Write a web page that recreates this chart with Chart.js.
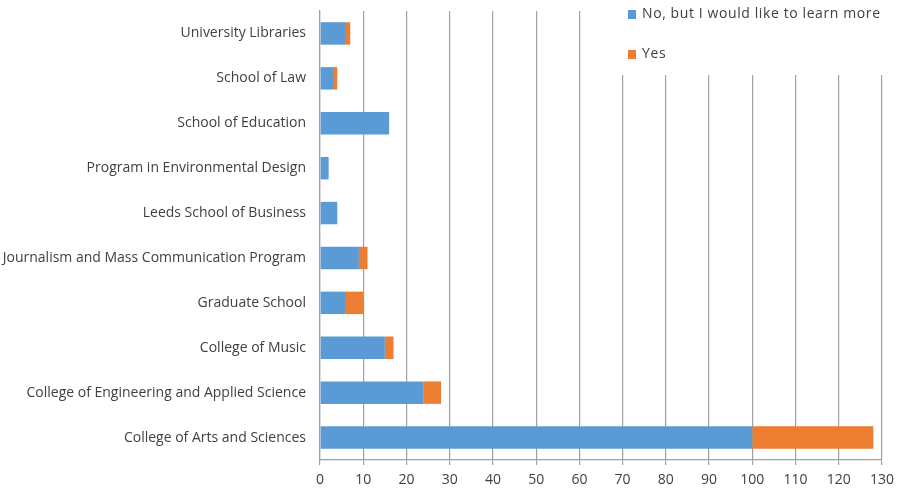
<!DOCTYPE html>
<html>
<head>
<meta charset="utf-8">
<script src="https://cdn.jsdelivr.net/npm/chart.js@4/dist/chart.umd.min.js"></script>
<style>
  html, body { margin: 0; padding: 0; background: #fff; }
  #wrap { width: 902px; height: 491px; }
</style>
</head>
<body>
<div id="wrap"><canvas id="grafico"></canvas></div>
<script>
// dados
const categorias = [
  'University Libraries',
  'School of Law',
  'School of Education',
  'Program in Environmental Design',
  'Leeds School of Business',
  'Journalism and Mass Communication Program',
  'Graduate School',
  'College of Music',
  'College of Engineering and Applied Science',
  'College of Arts and Sciences'
];
const serieNomes = ['No, but I would like to learn more', 'Yes'];
const naoQueroAprender = [6, 3, 16, 2, 4, 9, 6, 15, 24, 100];
const sim = [1, 1, 0, 0, 0, 2, 4, 2, 4, 28];
const eixoMin = 0, eixoMax = 130, eixoPasso = 10;

const corTexto = '#404040';
const fonte = 'Open Sans';

// legenda desenhada por cima do grafico (como no Excel)
const legendaSobreposta = {
  id: 'legendaSobreposta',
  afterDraw(chart) {
    const ctx = chart.ctx;
    ctx.save();
    ctx.fillStyle = '#fff';
    ctx.fillRect(622, 0, 280, 75);
    ctx.font = '14px "' + fonte + '"';
    ctx.letterSpacing = '0.6px';
    ctx.textBaseline = 'middle';
    chart.data.datasets.forEach((ds, i) => {
      const y = 14 + i * 40;
      ctx.fillStyle = ds.backgroundColor;
      ctx.fillRect(628, y - 4, 8, 9);
      ctx.fillStyle = corTexto;
      ctx.fillText(ds.label, 642, y);
    });
    ctx.restore();
  }
};

const ctx = document.getElementById('grafico').getContext('2d');
const chart = new Chart(ctx, {
  type: 'bar',
  data: {
    labels: categorias,
    datasets: [
      {
        label: serieNomes[0],
        data: naoQueroAprender,
        backgroundColor: '#5b9bd5',
        categoryPercentage: 1,
        barPercentage: 0.5
      },
      {
        label: serieNomes[1],
        data: sim,
        backgroundColor: '#ed7d31',
        categoryPercentage: 1,
        barPercentage: 0.5
      }
    ]
  },
  options: {
    indexAxis: 'y',
    responsive: true,
    maintainAspectRatio: false,
    animation: false,
    layout: { padding: { top: 11, right: 20, left: 0, bottom: 0 } },
    scales: {
      x: {
        stacked: true,
        min: eixoMin,
        max: eixoMax,
        ticks: {
          stepSize: eixoPasso,
          color: corTexto,
          font: { family: fonte, size: 14 },
          padding: 7,
          maxRotation: 0
        },
        grid: {
          color: '#a0a0a0',
          lineWidth: 1.2,
          tickLength: 5
        },
        border: { display: true, color: '#a0a0a0', width: 1.2 },
        afterFit(scale) { scale.height = 31; }
      },
      y: {
        stacked: true,
        ticks: {
          color: corTexto,
          font: { family: fonte, size: 14 },
          padding: 14,
          autoSkip: false
        },
        grid: { display: false, drawTicks: false },
        border: { display: true, color: '#a0a0a0', width: 1.2 },
        afterFit(scale) {
          scale.width = 320;
          // rotulos ficam no centro das categorias, nao precisa de folga extra
          scale.paddingTop = 0;
          scale.paddingBottom = 0;
        }
      }
    },
    plugins: {
      legend: { display: false },
      tooltip: { enabled: false }
    }
  },
  plugins: [legendaSobreposta]
});
</script>
</body>
</html>
